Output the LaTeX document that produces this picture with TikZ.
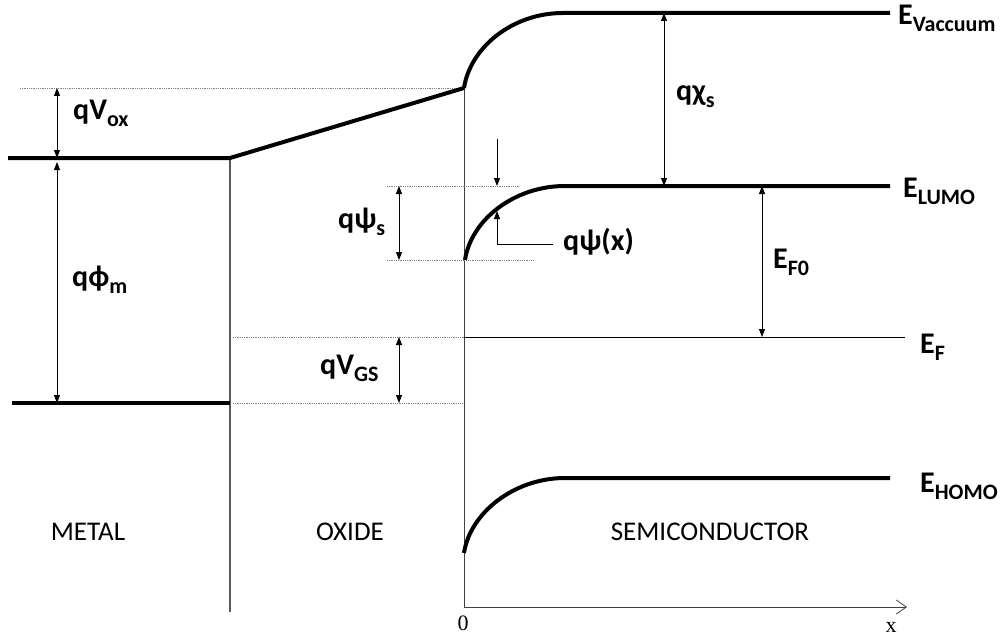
\documentclass[tikz,border=0pt]{standalone}
\usepackage{fontspec}
\setmainfont{Carlito}
\newfontfamily\axisfont{Liberation Serif}
\usetikzlibrary{arrows.meta}
% lowered subscript of the energy labels
\newcommand{\lowsub}[1]{\raisebox{-7pt}{\fontsize{22}{22}\selectfont #1}}

\begin{document}
\begin{tikzpicture}[x=1pt, y=-1pt,
        band/.style={line width=4pt},
        dim/.style={line width=0.9pt, {Triangle[length=8pt,width=6pt]}-{Triangle[length=8pt,width=6pt]}},
        guide/.style={densely dotted, gray, line width=0.8pt},
        lbl/.style={font=\fontsize{30}{30}\selectfont\bfseries, inner sep=0pt, anchor=base west},
        region/.style={font=\fontsize{27}{27}\selectfont, inner sep=0pt}
    ]
    \useasboundingbox (0,0) rectangle (1005,642);

    % band corners
    \coordinate (mtop0) at (8,158);
    \coordinate (mtop1) at (230,158);
    \coordinate (mbot0) at (12,403);
    \coordinate (mbot1) at (230,403);
    \coordinate (ox1)   at (464,88);
    \coordinate (vac1)  at (563,13);
    \coordinate (vac2)  at (890,13);
    \coordinate (lumo0) at (465,260);
    \coordinate (lumo1) at (565,186);
    \coordinate (lumo2) at (890,186);
    \coordinate (homo0) at (464,553);
    \coordinate (homo1) at (565,478);
    \coordinate (homo2) at (890,478);
    \coordinate (ef0)   at (464,337);
    \coordinate (ef1)   at (905,337);
    \coordinate (orig)  at (464,607);
    \coordinate (xend)  at (907,607);
    \coordinate (wall)  at (230,612);

    % guide ends
    \coordinate (g1) at (20,88);
    \coordinate (g2) at (387,186);  \coordinate (g3) at (520,186);
    \coordinate (g4) at (387,260);  \coordinate (g5) at (533,260);
    \coordinate (g6) at (233,337);
    \coordinate (g7) at (233,403);  \coordinate (g8) at (462,403);

    % arrow ends
    \coordinate (a1) at (57,88);   \coordinate (a2) at (57,158);
    \coordinate (a3) at (57,162);  \coordinate (a4) at (57,403);
    \coordinate (a5) at (399,186); \coordinate (a6) at (399,260);
    \coordinate (a7) at (399,337); \coordinate (a8) at (399,403);
    \coordinate (a9) at (664,13);  \coordinate (a10) at (664,186);
    \coordinate (a11) at (762,186); \coordinate (a12) at (762,337);
    \coordinate (a13) at (497,139); \coordinate (a14) at (497,186);
    \coordinate (p1) at (553,244); \coordinate (p2) at (497,244); \coordinate (p3) at (497,211);

    % walls and axis
    \draw[gray!70!black, line width=1.4pt] (mtop1) -- (wall);
    \draw[black!75, line width=0.8pt] (ox1) -- (orig);
    \draw[black!75, line width=0.8pt, -{Straight Barb[length=10pt,width=14pt]}] (orig) -- (xend);
    \draw[black, line width=0.8pt] (ef0) -- (ef1);

    % dotted guides
    \draw[guide] (g1) -- (ox1);
    \draw[guide] (g2) -- (g3);
    \draw[guide] (g4) -- (g5);
    \draw[guide] (g6) -- (ef0);
    \draw[guide] (g7) -- (g8);

    % bands
    \draw[band] (mtop0) -- (mtop1) -- (ox1);
    \draw[band] (mbot0) -- (mbot1);
    \draw[band] (ox1) .. controls (470,48) and (512,13) .. (vac1) -- (vac2);
    \draw[band] (lumo0) .. controls (471,220) and (514,186) .. (lumo1) -- (lumo2);
    \draw[band] (homo0) .. controls (470,513) and (514,478) .. (homo1) -- (homo2);

    % dimension arrows
    \draw[dim] (a1) -- (a2);
    \draw[dim] (a3) -- (a4);
    \draw[dim] (a5) -- (a6);
    \draw[dim] (a7) -- (a8);
    \draw[dim] (a9) -- (a10);
    \draw[dim] (a11) -- (a12);
    \draw[line width=0.9pt, -{Triangle[length=8pt,width=6pt]}] (a13) -- (a14);
    \draw[line width=0.9pt, -{Triangle[length=8pt,width=6pt]}] (p1) -- (p2) -- (p3);

    % labels
    \node[lbl] (evac) at (898,25)  {E\lowsub{Vaccuum}};
    \node[lbl] (elumo) at (903,197) {E\lowsub{LUMO}};
    \node[lbl] (ef) at (920,353)   {E\lowsub{F}};
    \node[lbl] (ehomo) at (920,492) {E\lowsub{HOMO}};
    \node[lbl] (qchi) at (676,101) {qχ\lowsub{s}};
    \node[lbl] (ef0lbl) at (773,268) {E\lowsub{F0}};
    \node[lbl] (qpsix) at (563,250) {qψ(x)};
    \node[lbl] (qpsis) at (338,228) {qψ\lowsub{s}};
    \node[lbl] (qvgs) at (320,374) {qV\lowsub{GS}};
    \node[lbl] (qvox) at (73,119)  {qV\lowsub{ox}};
    \node[lbl] (qphi) at (72,286)  {qϕ\lowsub{m}};

    \node[region] (metal) at (88,532)  {METAL};
    \node[region] (oxide) at (350,532) {OXIDE};
    \node[region] (semi) at (710,532)  {SEMICONDUCTOR};

    \node[font=\axisfont\fontsize{22}{22}\selectfont, inner sep=0pt] (zero) at (463,623) {0};
    \node[font=\axisfont\fontsize{22}{22}\selectfont, inner sep=0pt] (xlbl) at (891,627) {x};
\end{tikzpicture}
\end{document}
